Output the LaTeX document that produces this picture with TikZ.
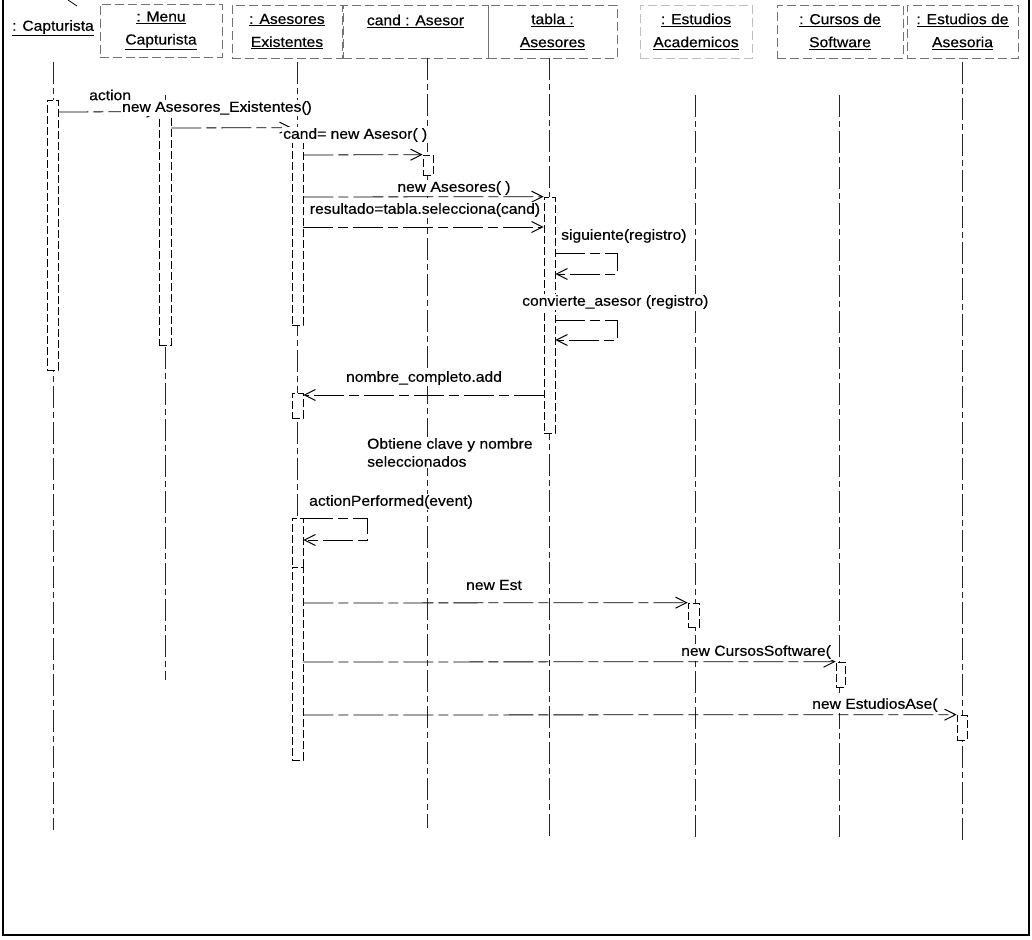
\documentclass[tikz,border=0pt]{standalone}
\usepackage{fontspec}
\setmainfont{Liberation Sans}[FakeStretch=1.08,FakeBold=0.4]
\usetikzlibrary{arrows.meta}
\begin{document}
\begin{tikzpicture}[x=1pt,y=-1pt,
  font=\fontsize{14.5}{23}\selectfont,
  obj/.style={draw=black!55, dash pattern=on 9pt off 4pt, line width=0.6pt, align=center, inner sep=0pt, minimum height=53pt},
  life/.style={black!85, dash pattern=on 22pt off 4pt on 6pt off 4pt, line width=0.7pt},
  act/.style={draw, dash pattern=on 8pt off 3pt, fill=white, line width=0.7pt, inner sep=0pt, minimum width=11pt},
  msg/.style={line width=0.8pt, dash pattern=on 30pt off 5pt on 10pt off 5pt, -{Straight Barb[length=11pt,width=11pt,line width=1pt]}},
  lbl/.style={fill=white, inner sep=1pt},
  lblw/.style={fill=white, inner sep=1pt, anchor=west}
]
\useasboundingbox (0,0) rectangle (1032,939);
% frame
\draw[line width=1.8pt] (3,0) -- (3,935) -- (1029,935) -- (1029,0);
\draw[line width=0.8pt] (68,0) -- (77,6);

% headers
\node (hcap) at (53,28) {\underline{: Capturista}};
\node[obj, minimum width=122pt] (hmenu) at (161,30.5) {\underline{: Menu}\\\underline{Capturista}};
\node[obj, minimum width=110pt] (hase) at (287,31.5) {\underline{: Asesores}\\\underline{Existentes}};
\node[obj, minimum width=145pt, text depth=23pt] (hcand) at (415.5,31.5) {\underline{cand : Asesor}};
\node[obj, minimum width=129pt] (htab) at (552.5,31.5) {\underline{tabla :}\\\underline{Asesores}};
\node[obj, draw=black!25, minimum width=112pt] (hest) at (696,31.5) {\underline{: Estudios}\\\underline{Academicos}};
\node[obj, minimum width=126pt] (hcur) at (840,31.5) {\underline{: Cursos de}\\\underline{Software}};
\node[obj, minimum width=111pt] (hasr) at (962.5,31.5) {\underline{: Estudios de}\\\underline{Asesoria}};

% lifelines
\coordinate (lcap) at (53,0);
\coordinate (lmenu) at (165,0);
\coordinate (lase) at (297,0);
\coordinate (lcand) at (427,0);
\coordinate (ltab) at (549,0);
\coordinate (lest) at (695,0);
\coordinate (lcur) at (839,0);
\coordinate (lasr) at (962,0);
\draw[life] (lcap |- 0,62) -- (lcap |- 0,830);
\draw[life] (lmenu |- 0,95) -- (lmenu |- 0,680);
\draw[life] (lase |- 0,62) -- (lase |- 0,760);
\draw[life] (lcand |- hcand.south) -- (lcand |- 0,828);
\draw[life] (ltab |- htab.south) -- (ltab |- 0,837);
\draw[life] (lest |- 0,95) -- (lest |- 0,838);
\draw[life] (lcur |- 0,95) -- (lcur |- 0,839);
\draw[life] (lasr |- 0,62) -- (lasr |- 0,840);

% activation boxes
\node[act, minimum height=270pt] (capAct) at (52.5,235) {};
\node[act, minimum height=233pt, minimum width=12pt] (menuAct) at (165,228.5) {};
\node[act, minimum height=197pt] (aseAct1) at (297.5,226.5) {};
\node[act, minimum height=25pt] (aseAct2) at (297.5,405.5) {};
\node[act, minimum height=49pt] (aseAct3) at (297.5,542.5) {};
\node[act, minimum height=193pt] (aseAct4) at (297.5,663.5) {};
\node[act, minimum height=20pt, minimum width=10pt] (candAct) at (428,165) {};
\node[act, minimum height=236pt] (tabAct) at (549.5,315) {};
\node[act, minimum height=24pt] (estAct) at (693.5,615) {};
\node[act, minimum height=25pt, minimum width=9pt] (curAct) at (840.5,674.5) {};
\node[act, minimum height=25pt, minimum width=10pt] (asAct) at (962,727.5) {};

% messages
\draw[msg] (capAct.east |- 0,112) -- (menuAct.north west);
\node[lblw] at (88,95) {action};

\draw[msg] (menuAct.east |- 0,128) -- (aseAct1.north west);
\node[lbl] at (217,108) {new Asesores\_Existentes()};

\draw[msg] (aseAct1.east |- 0,155) -- (candAct.north west);
\node[lblw] at (282,135) {cand= new Asesor( )};

\draw[msg] (aseAct1.east |- 0,197) -- (tabAct.north west);
\node[lbl] at (454,188) {new Asesores( )};

\draw[msg] (aseAct1.east |- 0,227) -- (tabAct.west |- 0,227);
\node[lbl] at (425,210) {resultado=tabla.selecciona(cand)};

\draw[msg] (tabAct.east |- 0,253) -- ++(62,0) -- ++(0,21) -- (tabAct.east |- 0,274);
\node[lblw] at (560,236) {siguiente(registro)};

\draw[msg] (tabAct.east |- 0,320) -- ++(62,0) -- ++(0,20) -- (tabAct.east |- 0,340);
\node[lblw] at (521,302) {convierte\_asesor (registro)};

\draw[msg] (tabAct.west |- 0,395) -- (aseAct2.east |- 0,395);
\node[lbl] at (424,378) {nombre\_completo.add};

\node[fill=white, inner sep=1pt, anchor=north west, align=left, font=\fontsize{14.5}{18}\selectfont] (note) at (366,437) {Obtiene clave y nombre\\seleccionados};

\draw[msg] (aseAct3.east |- 0,518) -- ++(64,0) -- ++(0,22) -- (aseAct3.east |- 0,540);
\node[lblw] at (308,502) {actionPerformed(event)};

\draw[msg] (aseAct4.east |- 0,603) -- (estAct.north west);
\node[lbl] at (494,585) {new Est};

\draw[msg] (aseAct4.east |- 0,662) -- (curAct.north west);
\node[lblw] at (680,652) {new CursosSoftware(};

\draw[msg] (aseAct4.east |- 0,715) -- (asAct.north west);
\node[lblw] at (811,705) {new EstudiosAse(};
\end{tikzpicture}
\end{document}
